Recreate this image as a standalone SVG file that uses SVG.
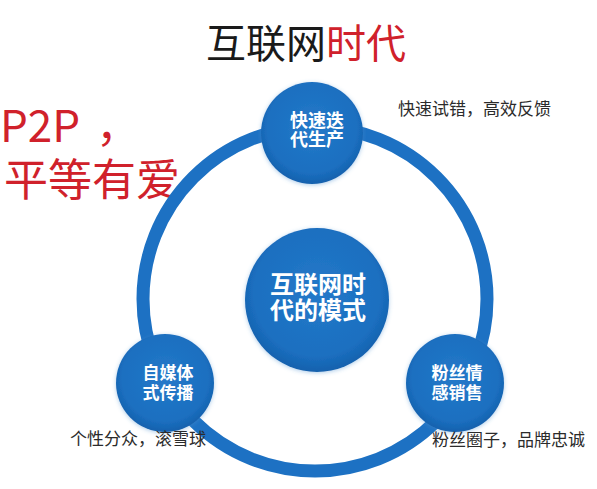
<svg xmlns="http://www.w3.org/2000/svg" width="597" height="489" viewBox="0 0 597 489">
<defs>
<radialGradient id="bg" cx="50%" cy="45%" r="55%">
<stop offset="0" stop-color="#2479c9"/>
<stop offset="0.8" stop-color="#1b6fc0"/>
<stop offset="1" stop-color="#1561ad"/>
</radialGradient>
<filter id="sh" x="-20%" y="-20%" width="140%" height="140%">
<feGaussianBlur in="SourceAlpha" stdDeviation="2"/>
<feOffset dx="0" dy="1" result="b"/>
<feFlood flood-color="#4a90d0" flood-opacity="0.45"/>
<feComposite in2="b" operator="in"/>
<feMerge><feMergeNode/><feMergeNode in="SourceGraphic"/></feMerge>
</filter>
</defs>
<style>
.cjk{font-family:"Noto Sans CJK SC","Noto Sans",sans-serif}
.node circle{fill:url(#bg);filter:url(#sh)}
.nt{fill:#ffffff;font-weight:700;text-anchor:middle}
.ann{fill:#2b2b2b;font-size:17px}
.red{fill:#d0212b}
</style>
<rect width="597" height="489" fill="#ffffff"/>
<g id="title" class="cjk">
<text x="306" y="58" font-size="40" text-anchor="middle" fill="#1a1a1a">互联网<tspan class="red">时代</tspan></text>
</g>
<g id="slogan" class="cjk red">
<text x="0" y="142" font-size="44" fill="#d0212b">P2P<tspan x="96">，</tspan></text>
<text x="4" y="196" font-size="44" fill="#d0212b">平等有爱</text>
</g>
<g id="connectors">
<circle cx="315" cy="299" r="172" fill="none" stroke="#1d71c3" stroke-width="13"/>
</g>
<g id="node-center" class="node cjk">
<circle cx="317" cy="300" r="72"/>
<text class="nt" font-size="24"><tspan x="318" y="293">互联网时</tspan><tspan x="318" y="319">代的模式</tspan></text>
</g>
<g id="node-top" class="node cjk">
<circle cx="312" cy="133" r="51"/>
<text class="nt" font-size="18"><tspan x="317" y="127">快速迭</tspan><tspan x="317" y="146">代生产</tspan></text>
</g>
<g id="node-left" class="node cjk">
<circle cx="165" cy="383" r="49"/>
<text class="nt" font-size="17"><tspan x="168" y="379">自媒体</tspan><tspan x="168" y="399">式传播</tspan></text>
</g>
<g id="node-right" class="node cjk">
<circle cx="455" cy="383" r="49"/>
<text class="nt" font-size="17"><tspan x="457" y="379">粉丝情</tspan><tspan x="457" y="399">感销售</tspan></text>
</g>
<g id="annotations" class="cjk">
<text class="ann" x="398" y="115">快速试错，高效反馈</text>
<text class="ann" x="70" y="445">个性分众，滚雪球</text>
<text class="ann" x="432" y="446">粉丝圈子，品牌忠诚</text>
</g>
</svg>
